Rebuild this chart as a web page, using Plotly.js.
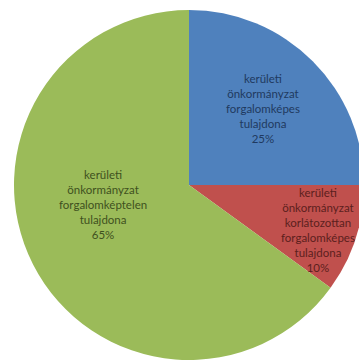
<!DOCTYPE html>
<html>
<head>
<meta charset="utf-8">
<script src="https://cdn.plot.ly/plotly-3.0.1.min.js"></script>
<style>
html,body{margin:0;padding:0;overflow:hidden;background:#fff;}
#chart{width:367px;height:363px;}
</style>
</head>
<body>
<div id="chart"></div>
<script>
const labels = [
  "kerületi<br>önkormányzat<br>forgalomképes<br>tulajdona",
  "kerületi<br>önkormányzat<br>korlátozottan<br>forgalomképes<br>tulajdona",
  "kerületi<br>önkormányzat<br>forgalomképtelen<br>tulajdona"
];
const values = [25, 10, 65];
const sliceColors = ["#4F81BD", "#C0504D", "#9BBB59"];
const textColors = ["#1F3A60", "#5C1F1D", "#3F5120"];
const labelPos = [[263, 108], [318, 230], [103, 204]]; // pixel positions of label centres

const W = 367, H = 363;
const annotations = labels.map((l, i) => ({
  text: l + "<br>" + values[i] + "%",
  x: labelPos[i][0] / W,
  y: 1 - labelPos[i][1] / H,
  xref: "paper", yref: "paper",
  xanchor: "center", yanchor: "middle",
  showarrow: false,
  align: "center",
  font: {family: "Lato, 'Open Sans', sans-serif", size: 11.5, color: textColors[i]}
}));

Plotly.newPlot("chart", [{
  type: "pie",
  labels: labels,
  values: values,
  sort: false,
  direction: "clockwise",
  rotation: 0,
  marker: {colors: sliceColors, line: {width: 0}},
  textinfo: "none",
  hoverinfo: "none",
  domain: {x: [11 / W, 1], y: [3 / H, 1 - 10 / H]}
}], {
  width: W, height: H,
  margin: {l: 0, r: 0, t: 0, b: 0},
  showlegend: false,
  paper_bgcolor: "#fff",
  annotations: annotations
}, {staticPlot: true, displayModeBar: false});
</script>
</body>
</html>
